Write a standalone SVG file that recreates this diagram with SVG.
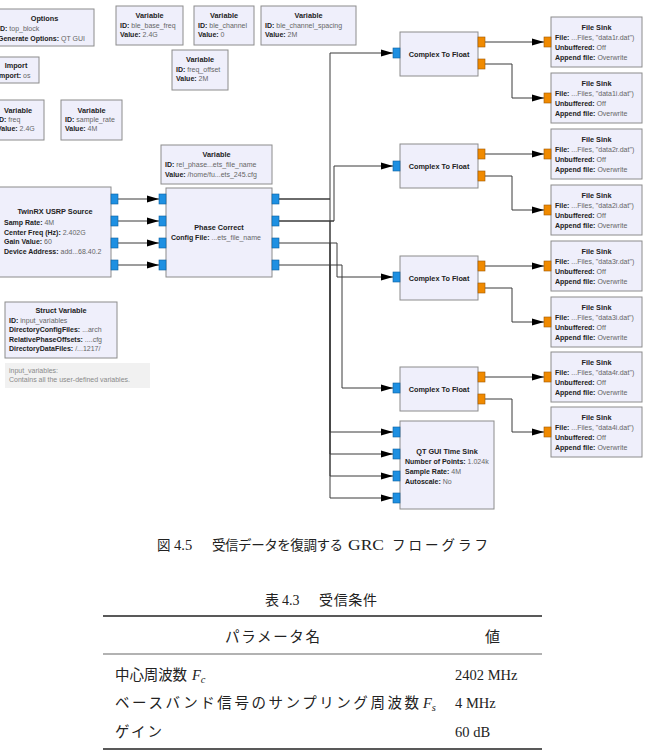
<svg xmlns="http://www.w3.org/2000/svg" width="647" height="755" viewBox="0 0 647 755">
<style>
.blk{fill:#efeffb;stroke:#8c8c8c;stroke-width:1}
.cmt{fill:#f1f1f1;stroke:none}
.t{font-family:"Liberation Sans",Arial,sans-serif;font-size:7.3px;font-weight:bold;fill:#222;text-anchor:middle}
.l{font-family:"Liberation Sans",Arial,sans-serif;font-size:7px;fill:#666}
.l tspan.k{font-weight:bold;fill:#222}
.c{font-family:"Liberation Sans",Arial,sans-serif;font-size:7px;fill:#8a8a8a}
.pb{fill:#1e90e2;stroke:#0d5f9e;stroke-width:0.6}
.po{fill:#f08a00;stroke:#a05800;stroke-width:0.6}
.w{fill:none;stroke:#3a3a3a;stroke-width:1}
.wa{fill:none;stroke:#3a3a3a;stroke-width:1;marker-end:url(#arr)}
.jp{font-family:"Liberation Serif","Noto Sans CJK JP",serif;fill:#222}
.rule{stroke:#222}
</style>
<defs>
<marker id="arr" viewBox="0 0 12 8" refX="12" refY="4" markerWidth="12" markerHeight="8" markerUnits="userSpaceOnUse" orient="auto"><path d="M0,0.5 L12,4 L0,7.5 z" fill="#000"/></marker>
</defs>
<rect width="647" height="755" fill="#fff"/>

<g id="connectors">
<path class="wa" d="M118,199 H159"/>
<path class="wa" d="M118,221 H159"/>
<path class="wa" d="M118,243 H159"/>
<path class="wa" d="M118,265 H159"/>
<path class="wa" d="M279,199 H330 V53 H393"/>
<path class="wa" d="M279,199 H330 V432 H393"/>
<path class="wa" d="M279,221 H334 V166 H393"/>
<path class="wa" d="M330,221 V454 H393"/>
<path class="w" d="M279,221 H334"/>
<path class="wa" d="M279,243 H337 V277 H393"/>
<path class="wa" d="M330,243 V476 H393"/>
<path class="wa" d="M279,265 H342 V388 H393"/>
<path class="wa" d="M330,265 V498 H393"/>
<path class="wa" d="M485,42 H544"/>
<path class="wa" d="M485,64 H512 V98 H544"/>
<path class="wa" d="M485,154 H544"/>
<path class="wa" d="M485,176 H512 V210 H544"/>
<path class="wa" d="M485,266 H544"/>
<path class="wa" d="M485,288 H512 V322 H544"/>
<path class="wa" d="M485,377 H544"/>
<path class="wa" d="M485,399 H512 V432 H544"/>
</g>

<g id="options">
<rect class="blk" x="-5" y="9" width="99" height="37"/>
<text class="t" x="44.5" y="21">Options</text>
<text class="l" x="-2" y="31"><tspan class="k">ID:</tspan> top_block</text>
<text class="l" x="-2" y="41"><tspan class="k">Generate Options:</tspan> QT GUI</text>
</g>
<g id="import">
<rect class="blk" x="-7" y="57" width="46" height="26"/>
<text class="t" x="16" y="68">Import</text>
<text class="l" x="-3" y="78"><tspan class="k">Import:</tspan> os</text>
</g>
<g id="var_freq">
<rect class="blk" x="-8" y="100" width="52" height="40"/>
<text class="t" x="18" y="113">Variable</text>
<text class="l" x="-3" y="122"><tspan class="k">ID:</tspan> freq</text>
<text class="l" x="-3" y="131"><tspan class="k">Value:</tspan> 2.4G</text>
</g>
<g id="var_sample_rate">
<rect class="blk" x="61" y="100" width="61" height="40"/>
<text class="t" x="91.5" y="113">Variable</text>
<text class="l" x="65" y="122"><tspan class="k">ID:</tspan> sample_rate</text>
<text class="l" x="65" y="131"><tspan class="k">Value:</tspan> 4M</text>
</g>
<g id="var_ble_base_freq">
<rect class="blk" x="116" y="6" width="67" height="39"/>
<text class="t" x="149.5" y="18">Variable</text>
<text class="l" x="120" y="28"><tspan class="k">ID:</tspan> ble_base_freq</text>
<text class="l" x="120" y="37"><tspan class="k">Value:</tspan> 2.4G</text>
</g>
<g id="var_ble_channel">
<rect class="blk" x="194" y="6" width="60" height="39"/>
<text class="t" x="224" y="18">Variable</text>
<text class="l" x="198" y="28"><tspan class="k">ID:</tspan> ble_channel</text>
<text class="l" x="198" y="37"><tspan class="k">Value:</tspan> 0</text>
</g>
<g id="var_ble_channel_spacing">
<rect class="blk" x="261" y="6" width="95" height="39"/>
<text class="t" x="308.5" y="18">Variable</text>
<text class="l" x="265" y="28"><tspan class="k">ID:</tspan> ble_channel_spacing</text>
<text class="l" x="265" y="37"><tspan class="k">Value:</tspan> 2M</text>
</g>
<g id="var_freq_offset">
<rect class="blk" x="172" y="50" width="56" height="40"/>
<text class="t" x="200" y="62">Variable</text>
<text class="l" x="176" y="72"><tspan class="k">ID:</tspan> freq_offset</text>
<text class="l" x="176" y="81"><tspan class="k">Value:</tspan> 2M</text>
</g>
<g id="var_rel_phase">
<rect class="blk" x="161" y="145" width="111" height="39"/>
<text class="t" x="216.5" y="157">Variable</text>
<text class="l" x="165" y="167"><tspan class="k">ID:</tspan> rel_phase...ets_file_name</text>
<text class="l" x="165" y="177"><tspan class="k">Value:</tspan> /home/fu...ets_245.cfg</text>
</g>
<g id="twinrx">
<rect class="blk" x="-1" y="187" width="112" height="90"/>
<text class="t" x="55" y="214">TwinRX USRP Source</text>
<text class="l" x="4" y="225"><tspan class="k">Samp Rate:</tspan> 4M</text>
<text class="l" x="4" y="235"><tspan class="k">Center Freq (Hz):</tspan> 2.402G</text>
<text class="l" x="4" y="244"><tspan class="k">Gain Value:</tspan> 60</text>
<text class="l" x="4" y="254"><tspan class="k">Device Address:</tspan> add...68.40.2</text>
<rect class="pb" x="111" y="194" width="7" height="10"/>
<rect class="pb" x="111" y="216" width="7" height="10"/>
<rect class="pb" x="111" y="238" width="7" height="10"/>
<rect class="pb" x="111" y="260" width="7" height="10"/>
</g>
<g id="phase_correct">
<rect class="blk" x="166" y="188" width="106" height="89"/>
<text class="t" x="219" y="230">Phase Correct</text>
<text class="l" x="171" y="240"><tspan class="k">Config File:</tspan> ...ets_file_name</text>
<rect class="pb" x="159" y="194" width="7" height="10"/>
<rect class="pb" x="159" y="216" width="7" height="10"/>
<rect class="pb" x="159" y="238" width="7" height="10"/>
<rect class="pb" x="159" y="260" width="7" height="10"/>
<rect class="pb" x="272" y="194" width="7" height="10"/>
<rect class="pb" x="272" y="216" width="7" height="10"/>
<rect class="pb" x="272" y="238" width="7" height="10"/>
<rect class="pb" x="272" y="260" width="7" height="10"/>
</g>
<g id="struct_variable">
<rect class="blk" x="5" y="302" width="112" height="56"/>
<text class="t" x="61" y="313">Struct Variable</text>
<text class="l" x="9" y="322.5"><tspan class="k">ID:</tspan> input_variables</text>
<text class="l" x="9" y="332"><tspan class="k">DirectoryConfigFiles:</tspan> ...arch</text>
<text class="l" x="9" y="341.5"><tspan class="k">RelativePhaseOffsets:</tspan> ....cfg</text>
<text class="l" x="9" y="351"><tspan class="k">DirectoryDataFiles:</tspan> /...1217/</text>
</g>
<g id="comment">
<rect class="cmt" x="5" y="363" width="145" height="25"/>
<text class="c" x="9" y="372.5">input_variables:</text>
<text class="c" x="9" y="382">Contains all the user-defined variables.</text>
</g>

<g id="ctf1">
<rect class="blk" x="400" y="32" width="78" height="44"/>
<text class="t" x="439" y="57">Complex To Float</text>
<rect class="pb" x="393" y="48" width="7" height="10"/>
<rect class="po" x="478" y="37" width="7" height="10"/>
<rect class="po" x="478" y="59" width="7" height="10"/>
</g>
<g id="ctf2">
<rect class="blk" x="400" y="144" width="78" height="44"/>
<text class="t" x="439" y="169">Complex To Float</text>
<rect class="pb" x="393" y="161" width="7" height="10"/>
<rect class="po" x="478" y="149" width="7" height="10"/>
<rect class="po" x="478" y="171" width="7" height="10"/>
</g>
<g id="ctf3">
<rect class="blk" x="400" y="256" width="78" height="44"/>
<text class="t" x="439" y="281">Complex To Float</text>
<rect class="pb" x="393" y="272" width="7" height="10"/>
<rect class="po" x="478" y="261" width="7" height="10"/>
<rect class="po" x="478" y="283" width="7" height="10"/>
</g>
<g id="ctf4">
<rect class="blk" x="400" y="367" width="78" height="44"/>
<text class="t" x="439" y="392">Complex To Float</text>
<rect class="pb" x="393" y="383" width="7" height="10"/>
<rect class="po" x="478" y="372" width="7" height="10"/>
<rect class="po" x="478" y="394" width="7" height="10"/>
</g>
<g id="qt_time_sink">
<rect class="blk" x="400" y="421" width="94" height="88"/>
<text class="t" x="447" y="454">QT GUI Time Sink</text>
<text class="l" x="405" y="464"><tspan class="k">Number of Points:</tspan> 1.024k</text>
<text class="l" x="405" y="474"><tspan class="k">Sample Rate:</tspan> 4M</text>
<text class="l" x="405" y="484"><tspan class="k">Autoscale:</tspan> No</text>
<rect class="pb" x="393" y="427" width="7" height="10"/>
<rect class="pb" x="393" y="449" width="7" height="10"/>
<rect class="pb" x="393" y="471" width="7" height="10"/>
<rect class="pb" x="393" y="493" width="7" height="10"/>
</g>

<g id="fs1">
<rect class="blk" x="551" y="17" width="91" height="50"/>
<text class="t" x="596.5" y="30">File Sink</text>
<text class="l" x="555" y="40"><tspan class="k">File:</tspan> ...Files, "data1r.dat")</text>
<text class="l" x="555" y="50"><tspan class="k">Unbuffered:</tspan> Off</text>
<text class="l" x="555" y="60"><tspan class="k">Append file:</tspan> Overwrite</text>
<rect class="po" x="544" y="37" width="7" height="10"/>
</g>
<g id="fs2">
<rect class="blk" x="551" y="73" width="91" height="50"/>
<text class="t" x="596.5" y="86">File Sink</text>
<text class="l" x="555" y="96"><tspan class="k">File:</tspan> ...Files, "data1i.dat")</text>
<text class="l" x="555" y="106"><tspan class="k">Unbuffered:</tspan> Off</text>
<text class="l" x="555" y="116"><tspan class="k">Append file:</tspan> Overwrite</text>
<rect class="po" x="544" y="93" width="7" height="10"/>
</g>
<g id="fs3">
<rect class="blk" x="551" y="129" width="91" height="50"/>
<text class="t" x="596.5" y="142">File Sink</text>
<text class="l" x="555" y="152"><tspan class="k">File:</tspan> ...Files, "data2r.dat")</text>
<text class="l" x="555" y="162"><tspan class="k">Unbuffered:</tspan> Off</text>
<text class="l" x="555" y="172"><tspan class="k">Append file:</tspan> Overwrite</text>
<rect class="po" x="544" y="149" width="7" height="10"/>
</g>
<g id="fs4">
<rect class="blk" x="551" y="185" width="91" height="50"/>
<text class="t" x="596.5" y="198">File Sink</text>
<text class="l" x="555" y="208"><tspan class="k">File:</tspan> ...Files, "data2i.dat")</text>
<text class="l" x="555" y="218"><tspan class="k">Unbuffered:</tspan> Off</text>
<text class="l" x="555" y="228"><tspan class="k">Append file:</tspan> Overwrite</text>
<rect class="po" x="544" y="205" width="7" height="10"/>
</g>
<g id="fs5">
<rect class="blk" x="551" y="241" width="91" height="50"/>
<text class="t" x="596.5" y="254">File Sink</text>
<text class="l" x="555" y="264"><tspan class="k">File:</tspan> ...Files, "data3r.dat")</text>
<text class="l" x="555" y="274"><tspan class="k">Unbuffered:</tspan> Off</text>
<text class="l" x="555" y="284"><tspan class="k">Append file:</tspan> Overwrite</text>
<rect class="po" x="544" y="261" width="7" height="10"/>
</g>
<g id="fs6">
<rect class="blk" x="551" y="297" width="91" height="50"/>
<text class="t" x="596.5" y="310">File Sink</text>
<text class="l" x="555" y="320"><tspan class="k">File:</tspan> ...Files, "data3i.dat")</text>
<text class="l" x="555" y="330"><tspan class="k">Unbuffered:</tspan> Off</text>
<text class="l" x="555" y="340"><tspan class="k">Append file:</tspan> Overwrite</text>
<rect class="po" x="544" y="317" width="7" height="10"/>
</g>
<g id="fs7">
<rect class="blk" x="551" y="352" width="91" height="50"/>
<text class="t" x="596.5" y="365">File Sink</text>
<text class="l" x="555" y="375"><tspan class="k">File:</tspan> ...Files, "data4r.dat")</text>
<text class="l" x="555" y="385"><tspan class="k">Unbuffered:</tspan> Off</text>
<text class="l" x="555" y="395"><tspan class="k">Append file:</tspan> Overwrite</text>
<rect class="po" x="544" y="372" width="7" height="10"/>
</g>
<g id="fs8">
<rect class="blk" x="551" y="407" width="91" height="50"/>
<text class="t" x="596.5" y="420">File Sink</text>
<text class="l" x="555" y="430"><tspan class="k">File:</tspan> ...Files, "data4i.dat")</text>
<text class="l" x="555" y="440"><tspan class="k">Unbuffered:</tspan> Off</text>
<text class="l" x="555" y="450"><tspan class="k">Append file:</tspan> Overwrite</text>
<rect class="po" x="544" y="427" width="7" height="10"/>
</g>

<g id="caption">
<text class="jp" font-size="13.5" y="550"><tspan x="157">図</tspan><tspan x="174" font-size="14.5">4.5</tspan><tspan x="212" textLength="131" lengthAdjust="spacing">受信データを復調する</tspan><tspan x="348" font-size="14.5" textLength="36" lengthAdjust="spacingAndGlyphs">GRC</tspan><tspan x="392" textLength="96" lengthAdjust="spacing">フローグラフ</tspan></text>
</g>
<g id="table">
<text class="jp" font-size="14" y="605"><tspan x="265">表</tspan><tspan x="282">4.3</tspan><tspan x="319" textLength="58" lengthAdjust="spacing">受信条件</tspan></text>
<line class="rule" x1="103" y1="616" x2="542" y2="616" stroke-width="1.3"/>
<text class="jp" font-size="14.5" x="225" y="642" textLength="95" lengthAdjust="spacing">パラメータ名</text>
<text class="jp" font-size="15" x="485" y="642">値</text>
<line class="rule" x1="103" y1="654" x2="542" y2="654" stroke-width="0.7"/>
<text class="jp" font-size="14.5" y="680"><tspan x="115" textLength="72" lengthAdjust="spacing">中心周波数</tspan><tspan x="192" font-style="italic">F</tspan><tspan font-style="italic" font-size="10.5" dy="3">c</tspan></text>
<text class="jp" font-size="14.5" x="455" y="680">2402 MHz</text>
<text class="jp" font-size="14.5" y="708"><tspan x="115" textLength="304" lengthAdjust="spacing">ベースバンド信号のサンプリング周波数</tspan><tspan x="423" font-style="italic">F</tspan><tspan font-style="italic" font-size="10.5" dy="3">s</tspan></text>
<text class="jp" font-size="14.5" x="455" y="708">4 MHz</text>
<text class="jp" font-size="14.5" x="115" y="737" textLength="47" lengthAdjust="spacing">ゲイン</text>
<text class="jp" font-size="14.5" x="455" y="737">60 dB</text>
<line class="rule" x1="103" y1="749" x2="542" y2="749" stroke-width="1.3"/>
</g>
</svg>
